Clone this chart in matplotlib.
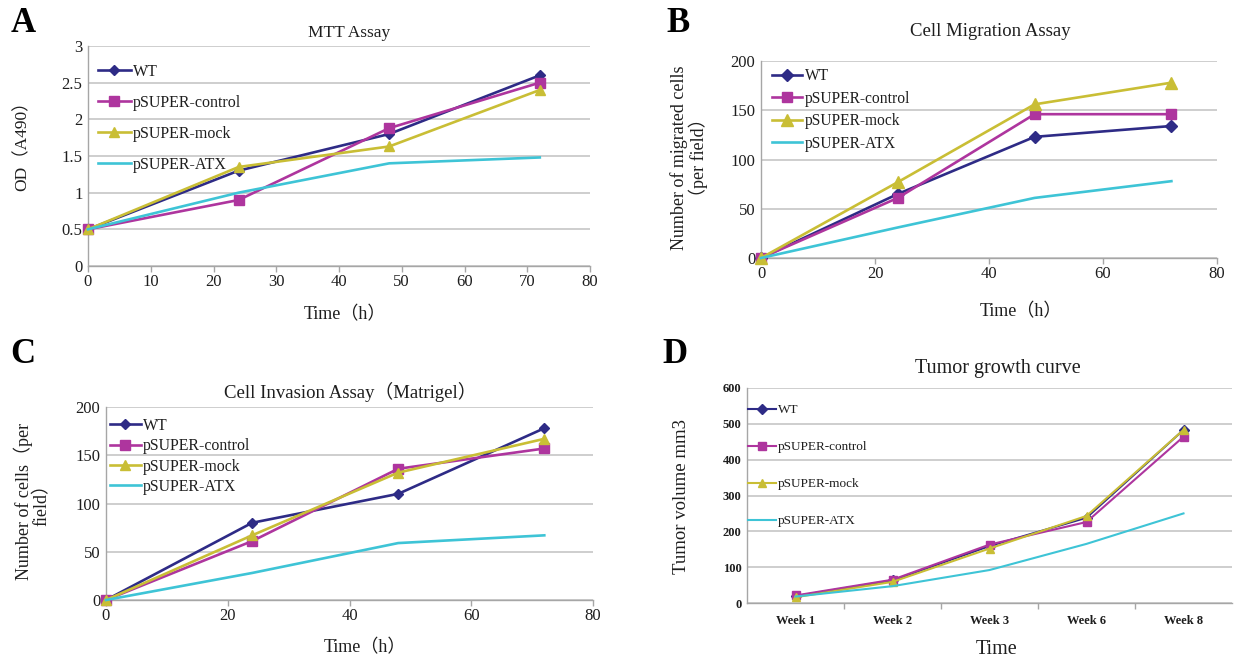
import matplotlib
matplotlib.use('Agg')
import matplotlib.pyplot as plt
from matplotlib.ticker import FuncFormatter, FixedLocator

# ---------------- data ----------------
series_names = ['WT', 'pSUPER-control', 'pSUPER-mock', 'pSUPER-ATX']
time_h = [0, 24, 48, 72]

mtt_wt = [0.5, 1.30, 1.80, 2.60]
mtt_control = [0.5, 0.90, 1.88, 2.50]
mtt_mock = [0.5, 1.35, 1.63, 2.40]
mtt_atx = [0.5, 1.00, 1.40, 1.48]

mig_wt = [0, 65, 123, 134]
mig_control = [0, 61, 146, 146]
mig_mock = [0, 77, 156, 178]
mig_atx = [0, 31, 61, 78]

inv_wt = [0, 80, 110, 178]
inv_control = [0, 61, 136, 157]
inv_mock = [0, 67, 132, 167]
inv_atx = [0, 28, 59, 67]

weeks = ['Week 1', 'Week 2', 'Week 3', 'Week 6', 'Week 8']
tum_wt = [19, 63, 159, 238, 483]
tum_control = [21, 65, 163, 226, 464]
tum_mock = [16, 59, 152, 243, 483]
tum_atx = [18, 47, 92, 165, 250]

# ---------------- style ----------------
colors = ['#2E2B86', '#AE359E', '#C9BE35', '#3EC4D6']
markers = ['D', 's', '^', None]
msizes = [5.5, 7, 7.5, 0]
SERIF = ['Liberation Serif', 'Noto Sans CJK SC']
GRID = '#C6C6C6'
SPINE = '#A6A6A6'
TXT = '#1E1E1E'

W, H = 1235, 658
fig = plt.figure(figsize=(W / 100, H / 100), dpi=100)


def add_axes(l, r, t, b):
    return fig.add_axes([l / W, 1 - b / H, (r - l) / W, (b - t) / H])


def style_axes(ax, tick_fs, tick_weight='normal'):
    for s in ['top', 'right']:
        ax.spines[s].set_visible(False)
    for s in ['left', 'bottom']:
        ax.spines[s].set_color(SPINE)
        ax.spines[s].set_linewidth(1.0)
    ax.yaxis.grid(True, color=GRID, linewidth=1.2)
    ax.set_axisbelow(True)
    ax.tick_params(axis='y', length=0, pad=4, labelsize=tick_fs, labelcolor=TXT)
    ax.tick_params(axis='x', length=4, width=1, color=SPINE, pad=2,
                   labelsize=tick_fs, labelcolor=TXT)
    for lab in ax.get_xticklabels() + ax.get_yticklabels():
        lab.set_family(SERIF)
        lab.set_fontweight(tick_weight)


def plot_series(ax, x, ys, lw=1.8, msc=1.0):
    handles = []
    for i, y in enumerate(ys):
        m = markers[i]
        h, = ax.plot(x, y, color=colors[i], lw=lw,
                     marker=m if m else '', markersize=msizes[i] * msc,
                     clip_on=False, zorder=3 + i)
        handles.append(h)
    return handles


def leg(ax, handles, x_px, y_px, fs, hl, ls, ax_box):
    l, r, t, b = ax_box
    ax.legend(handles, series_names, loc='upper left',
              bbox_to_anchor=((x_px - l) / (r - l), (b - y_px) / (b - t)),
              frameon=False, borderpad=0, borderaxespad=0,
              handlelength=hl, handletextpad=0.15, labelspacing=ls,
              prop={'family': SERIF, 'size': fs}, labelcolor=TXT)


fmt_g = FuncFormatter(lambda v, p: '%g' % v)

# ---------------- A: MTT ----------------
boxA = (88, 590, 46, 266)
axA = add_axes(*boxA)
hA = plot_series(axA, time_h, [mtt_wt, mtt_control, mtt_mock, mtt_atx], lw=1.9)
axA.set_xlim(0, 80)
axA.set_ylim(0, 3)
axA.set_xticks(range(0, 81, 10))
axA.set_yticks([0, 0.5, 1, 1.5, 2, 2.5, 3])
axA.yaxis.set_major_formatter(fmt_g)
style_axes(axA, 12)
leg(axA, hA, 98, 64, 11.5, 2.05, 0.94, boxA)

# ---------------- B: migration ----------------
boxB = (761, 1217, 61, 258)
axB = add_axes(*boxB)
hB = plot_series(axB, time_h, [mig_wt, mig_control, mig_mock, mig_atx], lw=1.9, msc=1.1)
axB.set_xlim(0, 80)
axB.set_ylim(0, 200)
axB.set_xticks(range(0, 81, 20))
axB.set_yticks(range(0, 201, 50))
style_axes(axB, 12)
leg(axB, hB, 772, 68, 11.2, 1.95, 0.42, boxB)

# ---------------- C: invasion ----------------
boxC = (106, 593, 407, 600)
axC = add_axes(*boxC)
hC = plot_series(axC, time_h, [inv_wt, inv_control, inv_mock, inv_atx], lw=1.9)
axC.set_xlim(0, 80)
axC.set_ylim(0, 200)
axC.set_xticks(range(0, 81, 20))
axC.set_yticks(range(0, 201, 50))
style_axes(axC, 12)
leg(axC, hC, 110, 418, 11.4, 1.95, 0.27, boxC)

# ---------------- D: tumor growth ----------------
boxD = (747, 1232, 388, 603)
axD = add_axes(*boxD)
xD = list(range(len(weeks)))
hD = plot_series(axD, xD, [tum_wt, tum_control, tum_mock, tum_atx], lw=1.5, msc=0.85)
axD.set_xlim(-0.5, len(weeks) - 0.5)
axD.set_ylim(0, 600)
axD.set_xticks(xD)
axD.set_xticklabels(weeks)
axD.xaxis.set_minor_locator(FixedLocator([i + 0.5 for i in range(len(weeks) - 1)]))
axD.set_yticks(range(0, 601, 100))
style_axes(axD, 9, tick_weight='bold')
axD.tick_params(axis='x', which='major', length=0, pad=9)
axD.tick_params(axis='x', which='minor', length=4, width=1, color=SPINE)
leg(axD, hD, 748, 404, 9.5, 2.1, 1.88, boxD)

# ---------------- texts ----------------
def ftext(x, y, s, **kw):
    kw.setdefault('family', SERIF)
    kw.setdefault('color', TXT)
    fig.text(x / W, 1 - y / H, s, ha='center', va='center', **kw)

# panel letters
for (x, y, s) in [(23, 23, 'A'), (678, 23, 'B'), (23, 354, 'C'), (675, 354, 'D')]:
    ftext(x, y, s, fontsize=25, fontweight='bold', family='Liberation Serif', color='black')

# titles
ftext(349, 33, 'MTT Assay', fontsize=12.5)
ftext(990, 32, 'Cell Migration Assay', fontsize=13.5)
ftext(350, 392, 'Cell Invasion Assay（Matrigel）', fontsize=13.5)
ftext(998, 368, 'Tumor growth curve', fontsize=14.5)

# x labels
ftext(345, 315, 'Time（h）', fontsize=13)
ftext(1021, 312, 'Time（h）', fontsize=13)
ftext(365, 648, 'Time（h）', fontsize=13)
ftext(997, 650, 'Time', fontsize=14.5)

# y labels
ftext(22, 142, 'OD（A490）', fontsize=12.5, rotation=90)
ftext(689, 158, 'Number of migrated cells\n（per field）', fontsize=13,
      rotation=90, linespacing=1.0)
ftext(32, 501, 'Number of cells（per\nfield）', fontsize=13, rotation=90,
      linespacing=1.0)
ftext(682, 496, 'Tumor volume mm3', fontsize=13.5, rotation=90)

fig.savefig('out.png', dpi=100)
